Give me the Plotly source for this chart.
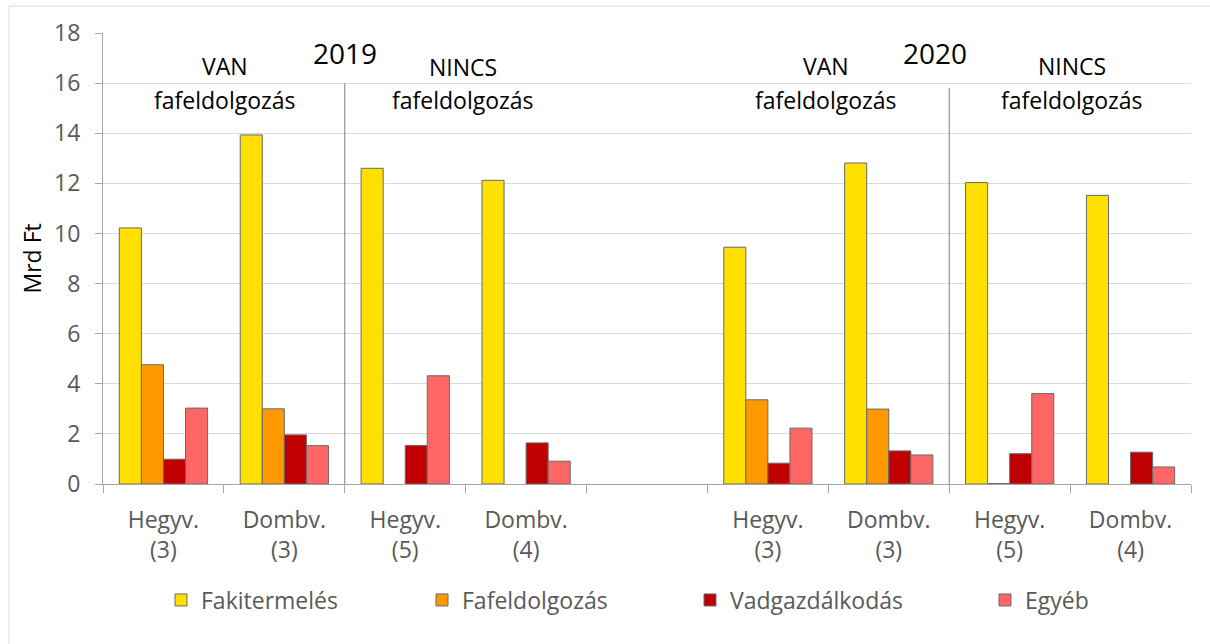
import plotly.graph_objects as go

# ---- data ----
categories = ["Hegyv.<br>(3)", "Dombv.<br>(3)", "Hegyv.<br>(5)", "Dombv.<br>(4)", "",
              "Hegyv.<br>(3)", "Dombv.<br>(3)", "Hegyv.<br>(5)", "Dombv.<br>(4)"]
positions = [0, 1, 2, 3, 4, 5, 6, 7, 8]
boundaries = [-0.5, 0.5, 1.5, 2.5, 3.5, 4.5, 5.5, 6.5, 7.5, 8.5]

fakitermeles = [10.22, 13.93, 12.60, 12.12, None, 9.45, 12.81, 12.03, 11.52]
fafeldolgozas = [4.76, 3.00, None, None, None, 3.36, 2.99, 0.02, None]
vadgazdalkodas = [0.99, 1.96, 1.54, 1.64, None, 0.83, 1.32, 1.21, 1.27]
egyeb = [3.03, 1.53, 4.32, 0.91, None, 2.23, 1.16, 3.61, 0.68]

series_names = ["Fakitermelés", "Fafeldolgozás", "Vadgazdálkodás", "Egyéb"]
series_values = [fakitermeles, fafeldolgozas, vadgazdalkodas, egyeb]
series_colors = ["#FFE000", "#FF9900", "#C00000", "#FF6666"]

y_ticks = [0, 2, 4, 6, 8, 10, 12, 14, 16, 18]

FONT = "Open Sans"
GREY = "#595959"

# layout geometry (pixels)
W, H = 1210, 644
L, R, T, B = 103, 19, 33, 160
PW = W - L - R
PH = H - T - B

def px_x(px):
    return (px - L) / PW

def px_y(py):
    return (H - B - py) / PH

fig = go.Figure()

legend_text_px = [201, 462, 730, 1025]
legend_keys = ["legend", "legend2", "legend3", "legend4"]

for name, vals, col, lk in zip(series_names, series_values, series_colors, legend_keys):
    fig.add_trace(go.Bar(
        name=name, x=positions, y=vals,
        marker=dict(color=col, line=dict(color="#6A6A6A", width=1)),
        legend=lk,
    ))

legend_common = dict(orientation="h", yanchor="middle", xanchor="left",
                     bgcolor="rgba(0,0,0,0)", borderwidth=0,
                     font=dict(family=FONT, size=23, color=GREY), itemwidth=30)
layout_legends = {}
for lk, tx in zip(legend_keys, legend_text_px):
    layout_legends[lk] = dict(legend_common, x=px_x(tx - 40), y=px_y(600))

fig.update_layout(
    width=W, height=H,
    margin=dict(l=L, r=R, t=T, b=B, autoexpand=False),
    paper_bgcolor="white", plot_bgcolor="white",
    barmode="group", bargap=0.27, bargroupgap=0,
    font=dict(family=FONT, size=23, color=GREY),
    showlegend=True,
    **layout_legends,
)

fig.update_xaxes(
    range=[-0.5, 8.5], tickmode="array", tickvals=positions, ticktext=categories,
    ticks="", showgrid=False, zeroline=False,
    showline=True, linecolor="#A6A6A6", linewidth=1,
    tickfont=dict(family=FONT, size=23, color=GREY),
    ticklabelstandoff=15,
    minor=dict(tickmode="array", tickvals=boundaries, ticks="outside", ticklen=8,
               tickcolor="#A6A6A6", tickwidth=1, showgrid=False),
)
fig.update_yaxes(
    range=[0, 18], tickmode="array", tickvals=y_ticks,
    showgrid=True, gridcolor="#D9D9D9", gridwidth=1, zeroline=False,
    showline=True, linecolor="#A6A6A6", linewidth=1,
    ticks="outside", ticklen=7, tickcolor="#A6A6A6",
    tickfont=dict(family=FONT, size=23, color=GREY),
    ticklabelstandoff=10,
)

# separator lines between VAN / NINCS groups
fig.add_shape(type="line", xref="x", yref="y", x0=1.5, x1=1.5, y0=0, y1=16.0,
              line=dict(color="#7F7F7F", width=1))
fig.add_shape(type="line", xref="x", yref="y", x0=6.5, x1=6.5, y0=0, y1=15.8,
              line=dict(color="#7F7F7F", width=1))

# chart area border
fig.add_shape(type="rect", xref="paper", yref="paper",
              x0=px_x(9), x1=px_x(1230), y0=px_y(680), y1=px_y(6),
              line=dict(color="#D9D9D9", width=1), fillcolor="rgba(0,0,0,0)", layer="below")

def ann(text, x, y, size):
    fig.add_annotation(text=text, x=x, y=y, xref="x", yref="y", showarrow=False,
                       xanchor="center", yanchor="middle",
                       font=dict(family=FONT, size=size, color="black"))

ann("2019", 1.50, 17.2, 28)
ann("2020", 6.38, 17.2, 28)
ann("VAN", 0.51, 16.7, 23)
ann("fafeldolgozás", 0.51, 15.32, 23)
ann("NINCS", 2.48, 16.66, 23)
ann("fafeldolgozás", 2.48, 15.32, 23)
ann("VAN", 5.48, 16.68, 23)
ann("fafeldolgozás", 5.48, 15.32, 23)
ann("NINCS", 7.515, 16.68, 23)
ann("fafeldolgozás", 7.515, 15.32, 23)

# y axis title
fig.add_annotation(text="Mrd Ft", x=px_x(31), y=0.5, xref="paper", yref="paper",
                   showarrow=False, textangle=-90, xanchor="center", yanchor="middle",
                   font=dict(family=FONT, size=23, color="black"))

fig.write_html("out.html", config={"displayModeBar": False},
               post_script="document.body.style.margin='0px';")
